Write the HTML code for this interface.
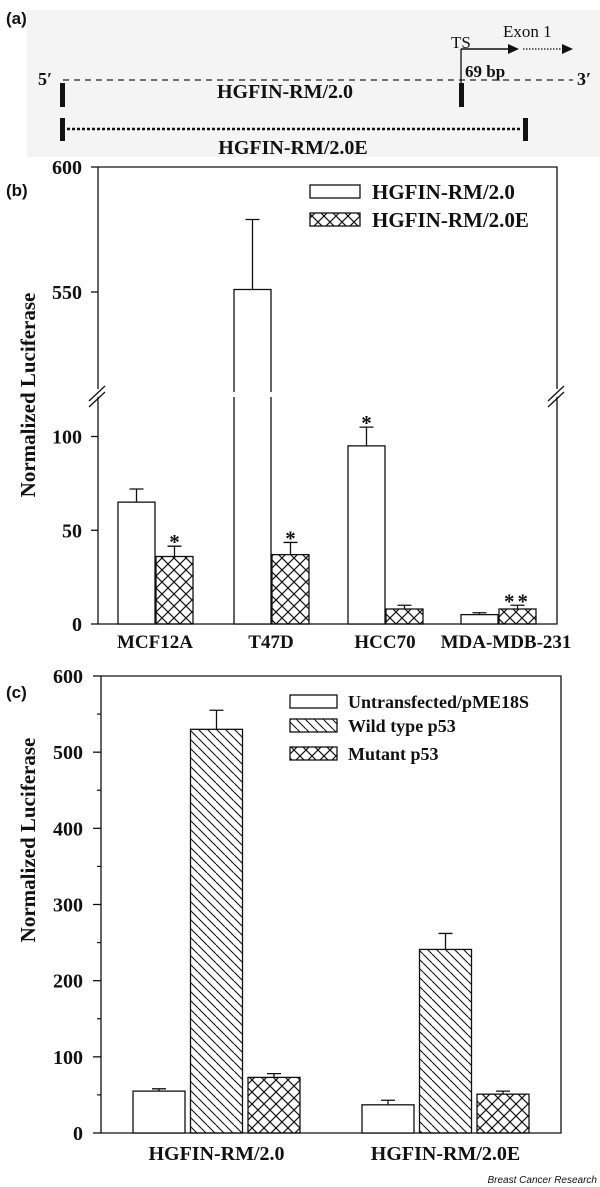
<!DOCTYPE html>
<html><head><meta charset="utf-8"><style>
html,body{margin:0;padding:0;background:#fff;}
svg{display:block;}
text{font-family:"Liberation Serif",serif;font-weight:bold;fill:#111;}
.sans{font-family:"Liberation Sans",sans-serif;}
</style></head><body>
<svg id="fig" width="600" height="1187" viewBox="0 0 600 1187" xmlns="http://www.w3.org/2000/svg">
<defs>
<pattern id="cross" patternUnits="userSpaceOnUse" width="12" height="12">
<path d="M0,0 L12,12 M12,0 L0,12" stroke="#111" stroke-width="1.2" fill="none"/>
</pattern>
<pattern id="diag" patternUnits="userSpaceOnUse" width="9" height="9">
<path d="M0,0 L9,9 M-9,0 L0,9 M0,-9 L9,0" stroke="#111" stroke-width="1.1" fill="none"/>
</pattern>
</defs>

<!-- Panel a -->
<g>
<rect x="27" y="10" width="573" height="147" fill="#f4f4f4"/>
<text x="6" y="24" class="sans" font-size="17">(a)</text>
<line x1="63" y1="80" x2="573" y2="80" stroke="#222" stroke-width="1.3" stroke-dasharray="6,5"/>
<text x="38" y="85" font-size="18">5′</text>
<text x="577" y="85" font-size="18">3′</text>
<rect x="60" y="83" width="5" height="24" fill="#111"/>
<rect x="459" y="83" width="5" height="24" fill="#111"/>
<text x="285" y="98" font-size="20" text-anchor="middle">HGFIN-RM/2.0</text>
<line x1="461" y1="49" x2="461" y2="83" stroke="#111" stroke-width="1.3"/>
<line x1="461" y1="49" x2="510" y2="49" stroke="#111" stroke-width="1.5"/>
<polygon points="508,44 519,49 508,54" fill="#111"/>
<line x1="523" y1="49" x2="564" y2="49" stroke="#111" stroke-width="1.2" stroke-dasharray="1.5,1.5"/>
<polygon points="562,44 573,49 562,54" fill="#111"/>
<text x="451" y="48" font-size="17" style="font-weight:normal">TS</text>
<text x="503" y="37" font-size="17" style="font-weight:normal">Exon 1</text>
<text x="465" y="77" font-size="17">69 bp</text>
<rect x="60" y="118" width="5" height="23" fill="#111"/>
<rect x="523" y="118" width="5" height="23" fill="#111"/>
<line x1="67" y1="129" x2="521" y2="129" stroke="#111" stroke-width="2.5" stroke-dasharray="3,2"/>
<text x="293" y="154" font-size="20" text-anchor="middle">HGFIN-RM/2.0E</text>
</g>

<g id="pb"></g>
<g id="pc"></g>
<text x="597" y="1183" class="sans" font-size="10" text-anchor="end" style="font-weight:normal;font-style:italic">Breast Cancer Research</text>
</svg>
<script>
// Panel b data
const bCategories = ["MCF12A", "T47D", "HCC70", "MDA-MDB-231"];
const bSeriesNames = ["HGFIN-RM/2.0", "HGFIN-RM/2.0E"];
const bWhite = [65, 551, 95, 5];
const bWhiteErr = [7, 28, 10, 1];
const bCross = [36, 37, 8, 8];
const bCrossErr = [5.5, 6.5, 2, 2];
const bWhiteStars = ["", "", "*", ""];
const bCrossStars = ["*", "*", "", "**"];
const bTicksLow = [0, 50, 100];
const bTicksHigh = [550, 600];
// Panel c data
const cCategories = ["HGFIN-RM/2.0", "HGFIN-RM/2.0E"];
const cSeriesNames = ["Untransfected/pME18S", "Wild type p53", "Mutant p53"];
const cUntr = [55, 37];
const cUntrErr = [3, 6];
const cWild = [530, 241];
const cWildErr = [25, 21];
const cMut = [73, 51];
const cMutErr = [5, 4];
const cTicks = [0, 100, 200, 300, 400, 500, 600];

const NS = "http://www.w3.org/2000/svg";
function mk(parent, tag, attrs, txt) {
  const e = document.createElementNS(NS, tag);
  for (const k in attrs) e.setAttribute(k, attrs[k]);
  if (txt !== undefined) e.textContent = txt;
  parent.appendChild(e);
  return e;
}

// ---------- Panel b ----------
(function () {
  const g = document.getElementById('pb');
  const L = 98, R = 557, T = 167, B = 624, BRK = 395;
  function y(v) {
    if (v <= 122) return B - v * 1.875;
    return 167 + (600 - v) * 2.5;
  }
  function seg(v) { return v <= 122 ? 0 : 1; }
  const frame = mk(g, 'path', {d: `M${L},${T} L${R},${T} L${R},${B} L${L},${B} Z`, fill: 'none', stroke: '#111', 'stroke-width': 1.3});
  
  
  [L, R].forEach(function (xx) {
    const w = mk(g, 'rect', {x: xx - 4, y: BRK - 6, width: 8, height: 8, fill: '#fff'});
    
    
    const s = mk(g, 'path', {d: `M${xx - 9},${BRK + 6} L${xx + 7},${BRK - 9} M${xx - 9},${BRK + 12} L${xx + 7},${BRK - 3}`, stroke: '#111', 'stroke-width': 1.3, fill: 'none'});
    
    
  });
  bTicksLow.concat(bTicksHigh).forEach(function (v) {
    const t = mk(g, 'line', {x1: L - 7, x2: L, y1: y(v), y2: y(v), stroke: '#111', 'stroke-width': 1.3});
    
    
    const lb = mk(g, 'text', {x: L - 16, y: y(v) + 7, 'font-size': 20, 'text-anchor': 'end'}, String(v));
    
    
  });
  const yt = mk(g, 'text', {x: 0, y: 0, 'font-size': 21, 'text-anchor': 'middle', transform: 'translate(35,395) rotate(-90)'}, 'Normalized Luciferase');
  
  
  const pl = mk(g, 'text', {x: 6, y: 196, 'font-size': 17, class: 'sans'}, '(b)');
  
  

  const groupLeft = [118, 234, 348, 461];
  const bw = 37;
  function bar(x, v, err, fill, star, name) {
    const top = y(v);
    const r = mk(g, 'rect', {x: x, y: top, width: bw, height: B - top, fill: fill, stroke: '#111', 'stroke-width': 1.3});
    
    
    if (seg(v) === 1) {
      const gap = mk(g, 'rect', {x: x - 2, y: BRK - 3, width: bw + 4, height: 5, fill: '#fff'});
      
      
    }
    const cx = x + bw / 2, et = y(v + err);
    const e = mk(g, 'path', {d: `M${cx},${top} L${cx},${et} M${cx - 7},${et} L${cx + 7},${et}`, stroke: '#111', 'stroke-width': 1.3, fill: 'none'});
    
    
    if (star) {
      const s = mk(g, 'text', {x: cx, y: et + 3, 'font-size': 21, 'text-anchor': 'middle', 'letter-spacing': star.length > 1 ? 3 : 0}, star);
      
      
    }
  }
  bCategories.forEach(function (c, i) {
    bar(groupLeft[i], bWhite[i], bWhiteErr[i], '#fff', bWhiteStars[i], 'bar-b-white-' + i);
    bar(groupLeft[i] + bw + 1, bCross[i], bCrossErr[i], 'url(#cross)', bCrossStars[i], 'bar-b-cross-' + i);
    const xl = mk(g, 'text', {x: groupLeft[i] + bw + (i === 3 ? 8 : 0), y: 648, 'font-size': 19, 'text-anchor': 'middle'}, c);
    
    
  });
  const fills = ['#fff', 'url(#cross)'];
  bSeriesNames.forEach(function (n, i) {
    const r = mk(g, 'rect', {x: 310, y: 185 + i * 28, width: 50, height: 13, fill: fills[i], stroke: '#111', 'stroke-width': 1.3});
    
    
    const t = mk(g, 'text', {x: 372, y: 199 + i * 28, 'font-size': 21}, n);
    
    
  });
})();

// ---------- Panel c ----------
(function () {
  const g = document.getElementById('pc');
  const L = 101, R = 561, T = 676, B = 1133;
  function y(v) { return B - v * (B - T) / 600; }
  const frame = mk(g, 'path', {d: `M${L},${T} L${R},${T} L${R},${B} L${L},${B} Z`, fill: 'none', stroke: '#111', 'stroke-width': 1.3});
  
  
  cTicks.forEach(function (v, i) {
    const t = mk(g, 'line', {x1: L - 8, x2: L, y1: y(v), y2: y(v), stroke: '#111', 'stroke-width': 1.3});
    
    
    const lb = mk(g, 'text', {x: L - 18, y: y(v) + 7, 'font-size': 20, 'text-anchor': 'end'}, String(v));
    
    
    if (i < cTicks.length - 1) {
      const mv = (v + cTicks[i + 1]) / 2;
      const m = mk(g, 'line', {x1: L - 4, x2: L, y1: y(mv), y2: y(mv), stroke: '#111', 'stroke-width': 1.2});
      
      
    }
  });
  const yt = mk(g, 'text', {x: 0, y: 0, 'font-size': 21, 'text-anchor': 'middle', transform: 'translate(35,840) rotate(-90)'}, 'Normalized Luciferase');
  
  
  const pl = mk(g, 'text', {x: 6, y: 698, 'font-size': 17, class: 'sans'}, '(c)');
  
  

  const groupLeft = [133, 362];
  const bw = 52, step = 57.5;
  const vals = [cUntr, cWild, cMut], errs = [cUntrErr, cWildErr, cMutErr];
  const fills = ['#fff', 'url(#diag)', 'url(#cross)'];
  cCategories.forEach(function (c, gi) {
    for (let s = 0; s < 3; s++) {
      const x = groupLeft[gi] + s * step, v = vals[s][gi], top = y(v);
      const r = mk(g, 'rect', {x: x, y: top, width: bw, height: B - top, fill: fills[s], stroke: '#111', 'stroke-width': 1.3});
      
      
      const cx = x + bw / 2, et = y(v + errs[s][gi]);
      const e = mk(g, 'path', {d: `M${cx},${top} L${cx},${et} M${cx - 7},${et} L${cx + 7},${et}`, stroke: '#111', 'stroke-width': 1.3, fill: 'none'});
      
      
    }
    const xl = mk(g, 'text', {x: groupLeft[gi] + step + bw / 2, y: 1160, 'font-size': 20, 'text-anchor': 'middle'}, c);
    
    
  });
  const ly = [695, 719, 747];
  cSeriesNames.forEach(function (n, i) {
    const r = mk(g, 'rect', {x: 290, y: ly[i], width: 47, height: 13, fill: fills[i], stroke: '#111', 'stroke-width': 1.3});
    
    
    const t = mk(g, 'text', {x: 348, y: ly[i] + 13, 'font-size': 18}, n);
    
    
  });
})();
</script>
</body></html>
